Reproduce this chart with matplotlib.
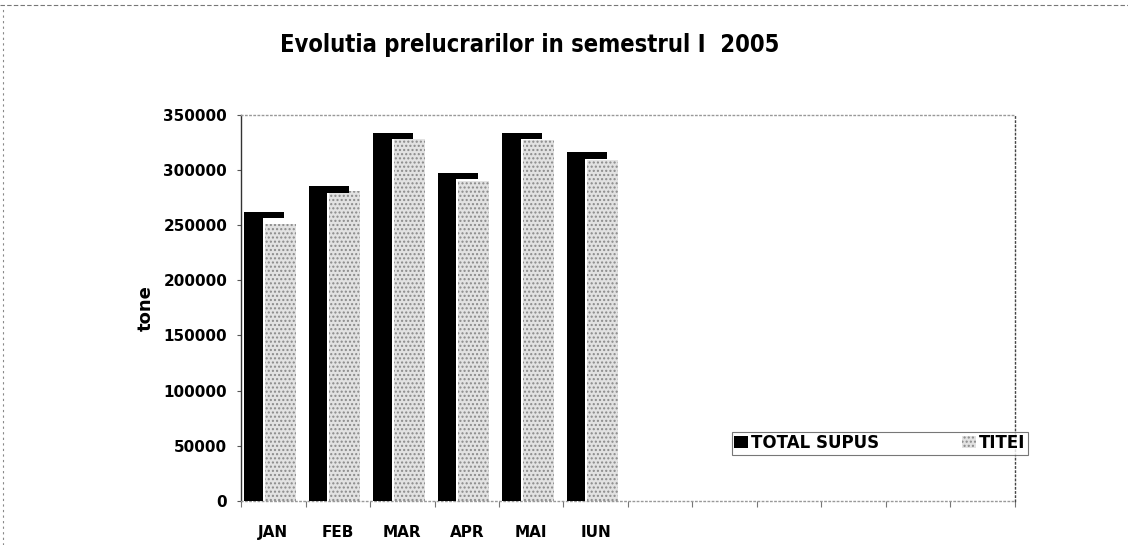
"""Evolutia prelucrarilor in semestrul I 2005 - bar chart recreation."""

import matplotlib

matplotlib.use("Agg")
import matplotlib.pyplot as plt
from matplotlib.lines import Line2D
import numpy as np

MONTHS = ["JAN", "FEB", "MAR", "APR", "MAI", "IUN"]
TOTAL_SUPUS = [262000, 285000, 333500, 297500, 333500, 316000]
TITEI = [251000, 281000, 328000, 290000, 327000, 309000]
N_SLOTS = 12  # axis leaves room for the second half of the year

plt.rcParams["font.family"] = ["DejaVu Sans"]

fig = plt.figure(figsize=(11.28, 5.45), dpi=100)
ax = fig.add_axes([0.2137, 0.0807, 0.686, 0.709])

x = np.arange(len(MONTHS))
cap = 6000

# grey stippled bars (TITEI)
ax.bar(x + 0.37, TITEI, width=0.48, align="edge", color="#e2e2e2",
       hatch="....", edgecolor="#8a8a8a", linewidth=0, zorder=2,
       label="TITEI")
# black bars (TOTAL SUPUS) with 3D-like top
ax.bar(x + 0.05, TOTAL_SUPUS, width=0.29, align="edge", color="black",
       linewidth=0, zorder=3, label="TOTAL SUPUS")
ax.bar(x + 0.05, [cap] * len(x), bottom=np.array(TOTAL_SUPUS) - cap,
       width=0.62, align="edge", color="black", linewidth=0, zorder=3)

ax.set_xlim(0, N_SLOTS)
ax.set_ylim(0, 350000)
ax.set_yticks(np.arange(0, 350001, 50000))
ax.tick_params(axis="y", labelsize=11, length=3, width=0.8, color="#555",
               pad=7)
for t in ax.get_yticklabels():
    t.set_fontweight("bold")

ax.set_xticks(np.arange(0, N_SLOTS + 1))
ax.set_xticklabels([])
ax.tick_params(axis="x", which="major", length=4, width=0.8, color="#777")
ax.set_xticks(x + 0.5, minor=True)
ax.set_xticklabels(MONTHS, minor=True, fontsize=11, fontweight="bold")
ax.tick_params(axis="x", which="minor", length=0, pad=17)

ax.set_ylabel("tone", fontsize=13, fontweight="bold", labelpad=6)

ax.spines["left"].set_color("#333")
ax.spines["left"].set_linewidth(1.0)
for side in ["top", "right", "bottom"]:
    ax.spines[side].set_color("#999")
    ax.spines[side].set_linestyle((0, (1, 2)))
    ax.spines[side].set_linewidth(1.0)
ax.spines["right"].set_color("#444")

handles, labels = ax.get_legend_handles_labels()
leg = fig.legend(handles[::-1], labels[::-1], loc="center",
                 bbox_to_anchor=(0.78, 0.187), ncol=2,
                 frameon=True, fancybox=False, handlelength=0.8,
                 handletextpad=0.2, columnspacing=5.0, borderpad=0.15,
                 prop={"weight": "bold", "size": 12})
leg.get_frame().set_edgecolor("#555")
leg.get_frame().set_linewidth(0.8)

fig.text(0.47, 0.917, "Evolutia prelucrarilor in semestrul I  2005",
         ha="center", va="center", fontsize=17, fontweight="bold",
         fontstretch="condensed")

# scanned page border fragments
fig.add_artist(Line2D([0.003, 0.003], [0.0, 0.985], color="#888",
                      lw=0.8, ls=(0, (2, 3))))
fig.add_artist(Line2D([0.0, 1.0], [0.99, 0.99], color="#777",
                      lw=0.8, ls=(0, (4, 2))))

fig.savefig("out.png", dpi=100)
